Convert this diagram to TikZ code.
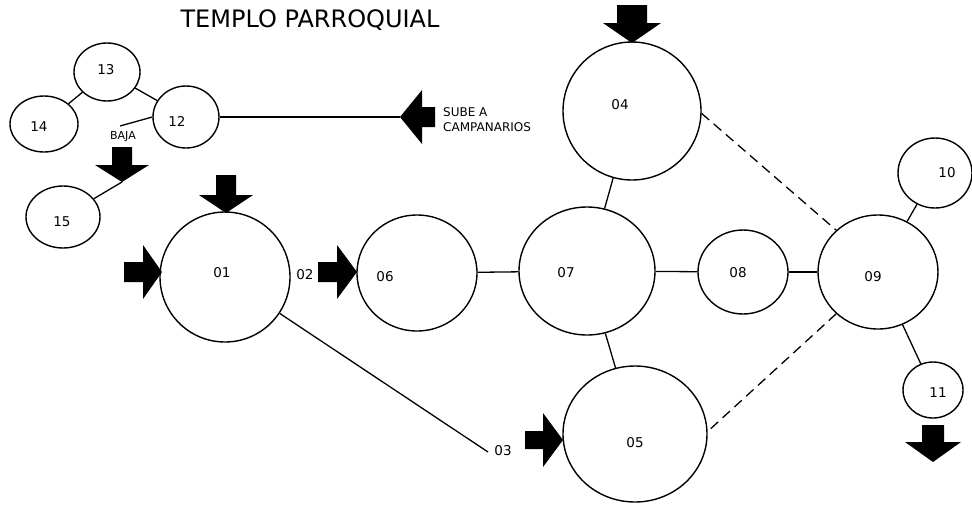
\documentclass[tikz,border=0pt]{standalone}
\usepackage{fontspec}
\setmainfont{DejaVu Sans}
\usetikzlibrary{shapes.geometric}
\tikzset{
  circ/.style={draw, ellipse, inner sep=0pt, line width=1.4pt},
  lab/.style={inner sep=0pt, font=\fontsize{13.5}{13.5}\selectfont},
  conn/.style={line width=1.3pt},
  dconn/.style={line width=1.3pt, dash pattern=on 10pt off 6pt},
}
\newcommand{\blkarrow}[6]{% tip, rotation, length, head length, head half width, shaft half width
  \begin{scope}[shift={(#1)}, rotate=#2]
    \fill (-#3,-#6) -- (-#4,-#6) -- (-#4,-#5) -- (0,0) -- (-#4,#5) -- (-#4,#6) -- (-#3,#6) -- cycle;
  \end{scope}}
\begin{document}
\begin{tikzpicture}[x=1pt, y=-1pt]
\useasboundingbox (0,0) rectangle (972,504);
\fill[white] (0,0) rectangle (972,504);

% title
\node[inner sep=0pt, font=\fontsize{24}{24}\selectfont] (title) at (310,20) {TEMPLO PARROQUIAL};

% circles
\node[circ, minimum width=130pt, minimum height=130pt] (c01) at (225,277) {};
\node[circ, minimum width=138pt, minimum height=138pt] (c04) at (632,111) {};
\node[circ, minimum width=144pt, minimum height=136pt] (c05) at (635,434) {};
\node[circ, minimum width=120pt, minimum height=116pt] (c06) at (417,273) {};
\node[circ, minimum width=136pt, minimum height=128pt] (c07) at (587,271) {};
\node[circ, minimum width=90pt, minimum height=84pt] (c08) at (743,272) {};
\node[circ, minimum width=120pt, minimum height=114pt] (c09) at (878,272) {};
\node[circ, minimum width=74pt, minimum height=70pt] (c10) at (935,173) {};
\node[circ, minimum width=60pt, minimum height=56pt] (c11) at (933,390) {};
\node[circ, minimum width=66pt, minimum height=62pt] (c12) at (186,117) {};
\node[circ, minimum width=66pt, minimum height=58pt] (c13) at (107,72) {};
\node[circ, minimum width=68pt, minimum height=56pt] (c14) at (44,124) {};
\node[circ, minimum width=74pt, minimum height=62pt] (c15) at (63,217) {};

% labels
\node[lab] (l01) at (222,273) {01};
\node[lab] (l02) at (305,275) {02};
\node[lab] (l03) at (503,451) {03};
\node[lab] (l04) at (620,105) {04};
\node[lab] (l05) at (635,443) {05};
\node[lab] (l06) at (385,277) {06};
\node[lab] (l07) at (566,273) {07};
\node[lab] (l08) at (738,273) {08};
\node[lab] (l09) at (873,277) {09};
\node[lab] (l10) at (947,173) {10};
\node[lab] (l11) at (938,393) {11};
\node[lab] (l12) at (177,121) {12};
\node[lab] (l13) at (106,70) {13};
\node[lab] (l14) at (39,127) {14};
\node[lab] (l15) at (62,222) {15};
\node[lab, font=\fontsize{11}{11}\selectfont] (baja) at (123,137) {BAJA};
\node[lab, anchor=west, align=left, font=\fontsize{12}{15}\selectfont] (sube) at (443,120) {SUBE A\\CAMPANARIOS};

% arrow tips / free ends
\coordinate (tip01top) at (226,213);
\coordinate (tip01left) at (162,272);
\coordinate (tip02) at (357,272);
\coordinate (tip05) at (563,440);
\coordinate (tip04top) at (632,43);
\coordinate (tipsube) at (400,117);
\coordinate (tipbaja) at (122,182);
\coordinate (tip11) at (933,462);
\coordinate (end03) at (488,452);
\coordinate (endbaja) at (120,126);

% block arrows
\blkarrow{tip01top}{-90}{38}{18}{27}{10}
\blkarrow{tip01left}{0}{38}{19}{27}{10}
\blkarrow{tip02}{0}{39}{20}{27}{10}
\blkarrow{tip05}{0}{38}{20}{27}{9}
\blkarrow{tip04top}{-90}{38}{20}{29}{15}
\blkarrow{tipsube}{180}{35}{22}{27}{10}
\blkarrow{tipbaja}{-90}{35}{17}{27}{10}
\blkarrow{tip11}{-90}{37}{20}{28}{11}

% connectors
\draw[conn] (c13) -- (c14);
\draw[conn] (c13) -- (c12);
\draw[conn] (c12.east) -- (tipsube);
\draw[conn] (c12.180) -- (endbaja);
\draw[conn] (tipbaja) -- (c15);
\draw[conn] (c01) -- (end03);
\draw[conn] (c06) -- (c07);
\draw[conn] (c04) -- (c07);
\draw[conn] (c07) -- (c05);
\draw[conn] (c07) -- (c08);
\draw[conn] (c08) -- (c09);
\draw[conn] (c09) -- (c10);
\draw[conn] (c09) -- (c11);
\draw[dconn] (c04.-2) -- (c09.135);
\draw[dconn] (c09.225) -- (c05.2);
\end{tikzpicture}
\end{document}
